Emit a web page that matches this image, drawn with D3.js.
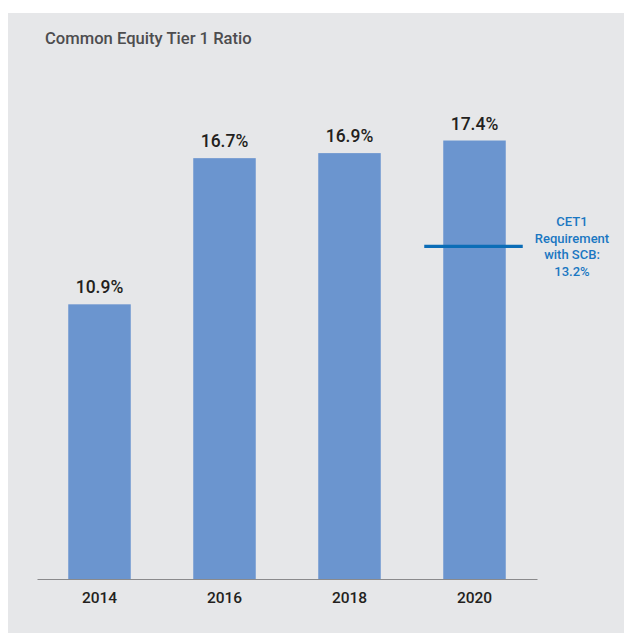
<!DOCTYPE html>
<html><head><meta charset="utf-8">
<script src="https://cdn.jsdelivr.net/npm/d3@7"></script>
<style>body{margin:0;background:#fff}svg{display:block}</style>
</head><body>
<script>
const categories = ["2014", "2016", "2018", "2020"];
const values = [10.9, 16.7, 16.9, 17.4];
const valueLabels = ["10.9%", "16.7%", "16.9%", "17.4%"];
const requirement = 13.2;
const requirementLabel = ["CET1", "Requirement", "with SCB:", "13.2%"];
const title = "Common Equity Tier 1 Ratio";

const W = 624, H = 633;
const svg = d3.select("body").append("svg").attr("width", W).attr("height", H);
const font = "Roboto, 'Noto Sans', sans-serif";

svg.append("rect").attr("x", 8).attr("y", 13).attr("width", W - 8).attr("height", H - 13).attr("fill", "#e6e7e9");

svg.append("text").attr("x", 45).attr("y", 44).text(title)
  .attr("font-family", font).attr("font-size", 16.6).attr("font-weight", 500).attr("fill", "#4d4d4f");

const x = d3.scaleBand().domain(categories).range([37, 537]).paddingInner(0.5).paddingOuter(0.25);
const y = d3.scaleLinear().domain([0, 20]).range([579, 75]);

svg.selectAll("rect.bar").data(values).join("rect").attr("class", "bar")
  .attr("x", (d, i) => x(categories[i])).attr("width", x.bandwidth())
  .attr("y", d => y(d)).attr("height", d => y(0) - y(d)).attr("fill", "#6b95cf");

svg.selectAll("text.val").data(values).join("text").attr("class", "val")
  .attr("x", (d, i) => x(categories[i]) + x.bandwidth() / 2).attr("y", d => y(d) - 11)
  .attr("text-anchor", "middle").text((d, i) => valueLabels[i])
  .attr("font-family", font).attr("font-size", 17.5).attr("font-weight", 500).attr("fill", "#231f20");

const axis = svg.append("g").attr("transform", `translate(0,${y(0)})`)
  .call(d3.axisBottom(x).tickSize(0).tickPadding(13));
axis.select(".domain").attr("stroke", "#8a8a8c").attr("stroke-width", 1.2);
axis.selectAll("text").attr("font-family", font).attr("font-size", 15.5).attr("font-weight", 500).attr("fill", "#231f20");

const last = categories[categories.length - 1];
svg.append("line").attr("x1", x(last) - 19).attr("x2", x(last) + x.bandwidth() + 17)
  .attr("y1", y(requirement)).attr("y2", y(requirement))
  .attr("stroke", "#0b6db7").attr("stroke-width", 3.2);

const ann = svg.append("text").attr("text-anchor", "middle")
  .attr("font-family", font).attr("font-size", 13).attr("font-weight", 500).attr("fill", "#1a77c2");
requirementLabel.forEach((t, i) => {
  ann.append("tspan").attr("x", 572).attr("y", 226 + i * 16.7).text(t);
});
</script>
</body></html>
